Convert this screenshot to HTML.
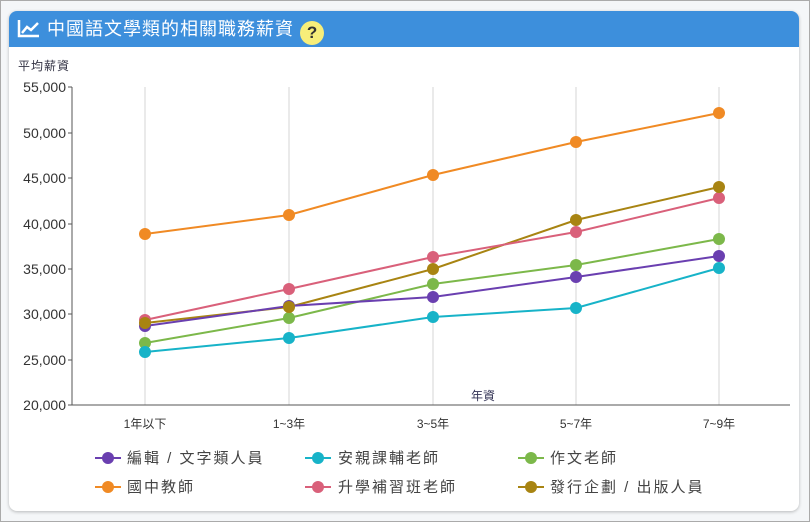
<!DOCTYPE html><html><head><meta charset="utf-8"><style>
body{margin:0;width:810px;height:522px;background:#fff;font-family:"Liberation Sans","Noto Sans CJK TC",sans-serif;overflow:hidden}
.outer{position:absolute;left:0;top:0;width:808px;height:520px;border:1px solid #aaa;background:#f4f6f8}
.card{position:absolute;left:9px;top:11px;width:790px;height:500px;background:#fff;border-radius:8px;box-shadow:0 1px 3px rgba(0,0,0,.25);overflow:hidden}
.hdr{height:36px;background:#3d8fdc;color:#fff;font-size:18px;line-height:36px;padding-left:8px;letter-spacing:1px}
</style></head><body><div class="outer"></div><div class="card"><div class="hdr">
<svg width="24" height="20" style="vertical-align:-3px"><path d="M2 2V18H22" stroke="#fff" stroke-width="2.5" fill="none"/><path d="M5 15L10 9L14 12L21 5" stroke="#fff" stroke-width="2.5" fill="none"/></svg> 中國語文學類的相關職務薪資 <span style="display:inline-block;width:24px;height:24px;border-radius:12px;background:#f7ee7a;color:#333;text-align:center;line-height:24px;font-weight:bold;font-size:17px;vertical-align:-3px;letter-spacing:0">?</span></div></div>
<svg width="810" height="522" style="position:absolute;left:0;top:0" font-family="Liberation Sans,Noto Sans CJK TC,sans-serif">
<text x="18" y="70" font-size="12" fill="#334" letter-spacing="1">平均薪資</text>
<g stroke="#d6d6d6"><line x1="145" y1="87" x2="145" y2="405"/><line x1="289" y1="87" x2="289" y2="405"/><line x1="433" y1="87" x2="433" y2="405"/><line x1="576" y1="87" x2="576" y2="405"/><line x1="719" y1="87" x2="719" y2="405"/></g>
<g stroke="#555"><line x1="72" y1="87" x2="72" y2="405"/><line x1="72" y1="405" x2="790" y2="405"/>
<line x1="68" y1="87" x2="72" y2="87"/><line x1="68" y1="133" x2="72" y2="133"/><line x1="68" y1="178" x2="72" y2="178"/><line x1="68" y1="224" x2="72" y2="224"/><line x1="68" y1="269" x2="72" y2="269"/><line x1="68" y1="314" x2="72" y2="314"/><line x1="68" y1="360" x2="72" y2="360"/><line x1="68" y1="405" x2="72" y2="405"/></g>
<g font-size="14" fill="#333" text-anchor="end"><text x="66" y="92">55,000</text><text x="66" y="138">50,000</text><text x="66" y="183">45,000</text><text x="66" y="229">40,000</text><text x="66" y="274">35,000</text><text x="66" y="319">30,000</text><text x="66" y="365">25,000</text><text x="66" y="410">20,000</text></g>
<text x="483" y="400" font-size="12" fill="#335" text-anchor="middle">年資</text>
<g font-size="12" fill="#333" text-anchor="middle"><text x="145" y="428">1年以下</text><text x="289" y="428">1~3年</text><text x="433" y="428">3~5年</text><text x="576" y="428">5~7年</text><text x="719" y="428">7~9年</text></g>
<g stroke-width="2" fill="none">
<polyline stroke="#f08a24" points="145,234 289,215 433,175 576,142 719,113"/>
<polyline stroke="#a88412" points="145,323 289,307 433,269 576,220 719,187"/>
<polyline stroke="#d9607a" points="145,320 289,289 433,257 576,232 719,198"/>
<polyline stroke="#7cb84a" points="145,343 289,318 433,284 576,265 719,239"/>
<polyline stroke="#6a3fb0" points="145,326 289,306 433,297 576,277 719,256"/>
<polyline stroke="#17b3c8" points="145,352 289,338 433,317 576,308 719,268"/>
</g>
<g fill="#f08a24"><circle cx="145" cy="234" r="6"/><circle cx="289" cy="215" r="6"/><circle cx="433" cy="175" r="6"/><circle cx="576" cy="142" r="6"/><circle cx="719" cy="113" r="6"/></g>
<g fill="#d9607a"><circle cx="145" cy="320" r="6"/><circle cx="289" cy="289" r="6"/><circle cx="433" cy="257" r="6"/><circle cx="576" cy="232" r="6"/><circle cx="719" cy="198" r="6"/></g>
<g fill="#7cb84a"><circle cx="145" cy="343" r="6"/><circle cx="289" cy="318" r="6"/><circle cx="433" cy="284" r="6"/><circle cx="576" cy="265" r="6"/><circle cx="719" cy="239" r="6"/></g>
<g fill="#17b3c8"><circle cx="145" cy="352" r="6"/><circle cx="289" cy="338" r="6"/><circle cx="433" cy="317" r="6"/><circle cx="576" cy="308" r="6"/><circle cx="719" cy="268" r="6"/></g>
<g fill="#6a3fb0"><circle cx="145" cy="326" r="6"/><circle cx="289" cy="306" r="6"/><circle cx="433" cy="297" r="6"/><circle cx="576" cy="277" r="6"/><circle cx="719" cy="256" r="6"/></g>
<g fill="#a88412"><circle cx="145" cy="323" r="6"/><circle cx="289" cy="307" r="6"/><circle cx="433" cy="269" r="6"/><circle cx="576" cy="220" r="6"/><circle cx="719" cy="187" r="6"/></g>
<g font-size="15" fill="#444" letter-spacing="2">
<line x1="95" y1="458" x2="121" y2="458" stroke="#6a3fb0" stroke-width="2"/><circle cx="108" cy="458" r="6" fill="#6a3fb0"/><text x="127" y="463">編輯 / 文字類人員</text>
<line x1="305" y1="458" x2="331" y2="458" stroke="#17b3c8" stroke-width="2"/><circle cx="318" cy="458" r="6" fill="#17b3c8"/><text x="338" y="463">安親課輔老師</text>
<line x1="518" y1="458" x2="544" y2="458" stroke="#7cb84a" stroke-width="2"/><circle cx="531" cy="458" r="6" fill="#7cb84a"/><text x="550" y="463">作文老師</text>
<line x1="95" y1="487" x2="121" y2="487" stroke="#f08a24" stroke-width="2"/><circle cx="108" cy="487" r="6" fill="#f08a24"/><text x="127" y="492">國中教師</text>
<line x1="305" y1="487" x2="331" y2="487" stroke="#d9607a" stroke-width="2"/><circle cx="318" cy="487" r="6" fill="#d9607a"/><text x="338" y="492">升學補習班老師</text>
<line x1="518" y1="487" x2="544" y2="487" stroke="#a88412" stroke-width="2"/><circle cx="531" cy="487" r="6" fill="#a88412"/><text x="550" y="492">發行企劃 / 出版人員</text>
</g></svg></body></html>
